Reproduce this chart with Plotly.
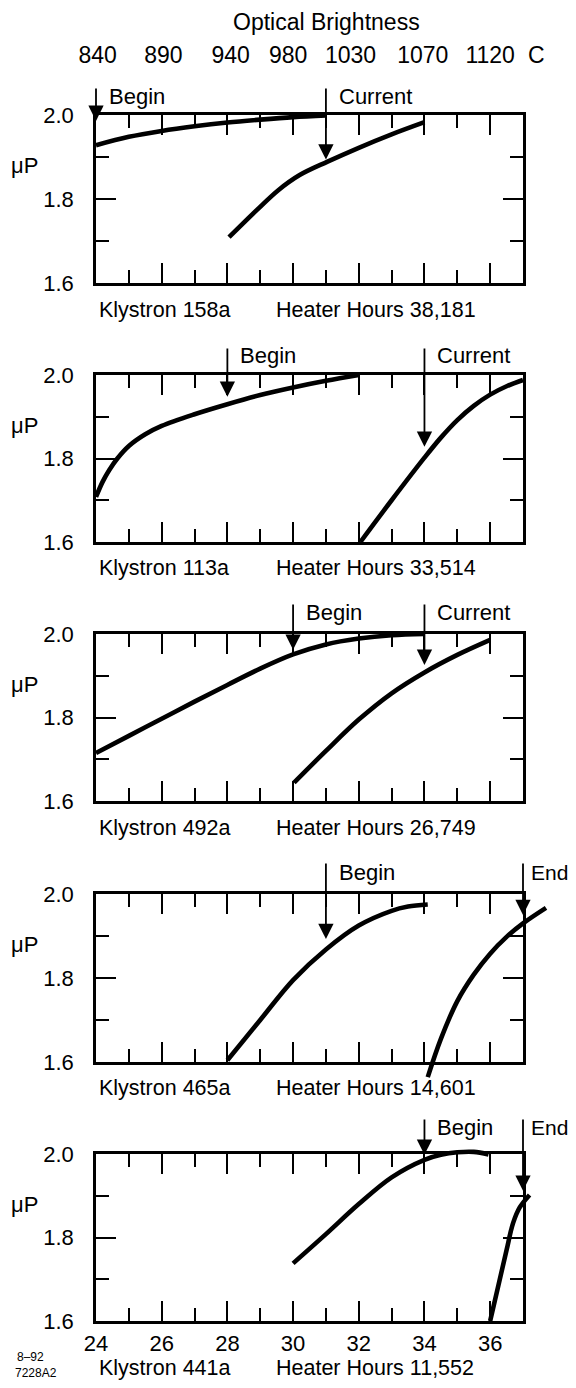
import plotly.graph_objects as go

# ---------------- data ----------------
x_major_ticks = [24, 26, 28, 30, 32, 34, 36]
optical_tick_pos = [24.05, 26.05, 28.1, 29.85, 31.75, 33.95, 36.0]
optical_tick_text = ["840", "890", "940", "980", "1030", "1070", "1120"]
optical_unit = "C"
optical_title = "Optical Brightness"
y_axis_label = "\u03bcP"

klystron_names = ["Klystron 158a", "Klystron 113a", "Klystron 492a",
                  "Klystron 465a", "Klystron 441a"]
heater_hours = ["Heater Hours 38,181", "Heater Hours 33,514", "Heater Hours 26,749",
                "Heater Hours 14,601", "Heater Hours 11,552"]

# panel 1 (Klystron 158a)
p1_begin_x = [24, 25, 26, 27, 28, 29, 30, 31]
p1_begin_y = [1.928, 1.948, 1.962, 1.973, 1.982, 1.989, 1.995, 1.999]
p1_current_x = [28.05, 28.9, 29.55, 30.2, 31.05, 32.0, 33.0, 34.0]
p1_current_y = [1.709, 1.774, 1.821, 1.857, 1.889, 1.922, 1.954, 1.983]

# panel 2 (Klystron 113a)
p2_begin_x = [24, 24.2, 24.4, 24.65, 25, 25.5, 26, 27, 28, 29, 30, 31, 32]
p2_begin_y = [1.708, 1.744, 1.772, 1.800, 1.830, 1.858, 1.878, 1.906, 1.930,
              1.952, 1.970, 1.986, 2.000]
p2_current_x = [32.05, 33, 34, 34.5, 35, 35.5, 36, 36.5, 37]
p2_current_y = [1.600, 1.700, 1.802, 1.850, 1.892, 1.926, 1.953, 1.973, 1.988]

# panel 3 (Klystron 492a)
p3_begin_x = [24, 25, 26, 27, 28, 29, 30, 31, 32, 33, 34]
p3_begin_y = [1.715, 1.756, 1.797, 1.838, 1.878, 1.917, 1.951, 1.975, 1.989,
              1.997, 2.000]
p3_current_x = [30.03, 31, 32, 33, 34, 35, 36]
p3_current_y = [1.644, 1.720, 1.795, 1.858, 1.908, 1.950, 1.986]

# panel 4 (Klystron 465a)
p4_begin_x = [28.0, 29, 30, 31, 32, 33, 33.5, 34.1]
p4_begin_y = [1.604, 1.700, 1.795, 1.868, 1.925, 1.960, 1.970, 1.975]
p4_end_x = [34.1, 34.5, 35.0, 35.5, 36.0, 36.5, 37.0, 37.7]
p4_end_y = [1.564, 1.655, 1.745, 1.808, 1.858, 1.898, 1.930, 1.967]

# panel 5 (Klystron 441a)
p5_begin_x = [30.0, 31, 32, 33, 34, 34.5, 35, 35.5, 35.95]
p5_begin_y = [1.738, 1.808, 1.880, 1.944, 1.986, 1.998, 2.004, 2.005, 1.999]
p5_end_x = [36.0, 36.25, 36.5, 36.7, 36.9, 37.2]
p5_end_y = [1.600, 1.685, 1.770, 1.835, 1.872, 1.902]

curves = [
    [(p1_begin_x, p1_begin_y), (p1_current_x, p1_current_y)],
    [(p2_begin_x, p2_begin_y), (p2_current_x, p2_current_y)],
    [(p3_begin_x, p3_begin_y), (p3_current_x, p3_current_y)],
    [(p4_begin_x, p4_begin_y), (p4_end_x, p4_end_y)],
    [(p5_begin_x, p5_begin_y), (p5_end_x, p5_end_y)],
]

arrow_labels = [["Begin", "Current"], ["Begin", "Current"], ["Begin", "Current"],
                ["Begin", "End"], ["Begin", "End"]]
arrow_x = [[24, 31], [28, 34], [30, 34], [31, 37], [34, 37]]
arrow_tip = [[1.986, 1.894], [1.948, 1.828], [1.962, 1.926], [1.893, 1.950],
             [1.998, 1.912]]

note_lines = ["8\u201392", "7228A2"]

# ---------------- layout geometry (page pixels) ----------------
PAGE_W, PAGE_H = 576, 1388
OFF = 8                      # default body margin of the html page
W, H = PAGE_W - 2 * OFF, PAGE_H - 2 * OFF
FONT = "Liberation Sans, Arial, Helvetica, sans-serif"
PX_X0, PX_X1 = 96, 523
PANEL_TOP = [115, 375, 634, 894, 1154]
PANEL_BOT = [283, 542, 801, 1062, 1321]
ARROW_TAIL = [87, 347, 603, 862, 1118]
ARROW_TEXT_Y = [97, 355, 612, 872, 1127]
LABEL_Y = [310, 568, 828, 1088, 1368]
XMIN, XMAX, YMIN, YMAX = 24, 37, 1.6, 2.0


def fx(p):
    """page pixel x -> paper fraction"""
    return (p - OFF) / W


def fy(p):
    """page pixel y -> paper fraction"""
    return 1 - (p - OFF) / H


def xpx(v):
    return PX_X0 + (v - XMIN) / (XMAX - XMIN) * (PX_X1 - PX_X0)


def ypx(k, v):
    return PANEL_TOP[k] + (YMAX - v) / (YMAX - YMIN) * (PANEL_BOT[k] - PANEL_TOP[k])


fig = go.Figure()
layout = dict(
    width=W, height=H,
    margin=dict(l=0, r=0, t=0, b=0, pad=0, autoexpand=False),
    paper_bgcolor="white", plot_bgcolor="rgba(0,0,0,0)",
    showlegend=False,
    font=dict(family=FONT, color="black", size=22),
)

annotations = []
ppu_x = (PX_X1 - PX_X0) / (XMAX - XMIN)

for k in range(5):
    i = k + 1
    e = k + 6
    top, bot = PANEL_TOP[k], PANEL_BOT[k]
    ppu_y = (bot - top) / (YMAX - YMIN)
    layout[f"xaxis{i}"] = dict(
        domain=[fx(PX_X0), fx(PX_X1)], range=[XMIN, XMAX], anchor=f"y{i}",
        showline=True, linewidth=2.6, linecolor="black", mirror="ticks",
        ticks="inside", ticklen=20, tickwidth=2.2, tickcolor="black",
        tickmode="array", tickvals=x_major_ticks,
        minor=dict(ticks="inside", ticklen=13, tickwidth=2.2, tickcolor="black",
                   tickmode="linear", tick0=24, dtick=1),
        showgrid=False, zeroline=False, automargin=False,
        showticklabels=(k == 4), tickfont=dict(size=22), ticklabelstandoff=1,
        fixedrange=True,
    )
    layout[f"yaxis{i}"] = dict(
        domain=[fy(bot), fy(top)], range=[YMIN, YMAX], anchor=f"x{i}",
        showline=True, linewidth=2.6, linecolor="black", mirror="ticks",
        ticks="inside", ticklen=20, tickwidth=2.2, tickcolor="black",
        tickmode="linear", tick0=1.6, dtick=0.2, tickformat=".1f",
        minor=dict(ticks="inside", ticklen=13, tickwidth=2.2, tickcolor="black",
                   tickmode="linear", tick0=1.6, dtick=0.1),
        showgrid=False, zeroline=False, automargin=False,
        tickfont=dict(size=22), ticklabelstandoff=15, fixedrange=True,
    )
    fig.add_trace(go.Scatter(x=[], y=[], xaxis=f"x{i}", yaxis=f"y{i}",
                             hoverinfo="skip", showlegend=False))

    # invisible axes with the same scale but a larger clip area, for the curves
    pad_l, pad_r, pad_t, pad_b = 10, (OFF + W) - PX_X1, 12, 30
    layout[f"xaxis{e}"] = dict(
        domain=[fx(PX_X0 - pad_l), fx(PX_X1 + pad_r)],
        range=[XMIN - pad_l / ppu_x, XMAX + pad_r / ppu_x],
        anchor=f"y{e}", visible=False, fixedrange=True, automargin=False,
    )
    layout[f"yaxis{e}"] = dict(
        domain=[fy(bot + pad_b), fy(top - pad_t)],
        range=[YMIN - pad_b / ppu_y, YMAX + pad_t / ppu_y],
        anchor=f"x{e}", visible=False, fixedrange=True, automargin=False,
    )
    for cx, cy in curves[k]:
        fig.add_trace(go.Scatter(
            x=cx, y=cy, mode="lines", xaxis=f"x{e}", yaxis=f"y{e}",
            line=dict(color="black", width=4.6, shape="spline", smoothing=1.0),
            hoverinfo="skip", showlegend=False,
        ))

    for ax_val, tip, lab in zip(arrow_x[k], arrow_tip[k], arrow_labels[k]):
        annotations.append(dict(
            xref=f"x{i}", yref=f"y{i}", x=ax_val, y=tip, text="",
            showarrow=True, ax=0, ay=ARROW_TAIL[k] - ypx(k, tip),
            arrowhead=2, arrowsize=1.7, arrowwidth=1.8, arrowcolor="black",
            standoff=0, startstandoff=0,
        ))
        near_edge = ax_val >= XMAX
        annotations.append(dict(
            xref="paper", yref="paper", x=fx(xpx(ax_val) + (7 if near_edge else 12)),
            y=fy(ARROW_TEXT_Y[k]), xanchor="left", yanchor="middle",
            text=lab, showarrow=False, font=dict(size=21 if near_edge else 22),
            borderpad=0,
        ))

    annotations.append(dict(
        xref="paper", yref="paper", x=fx(24), y=fy(ypx(k, 1.88)),
        xanchor="center", yanchor="middle", text=y_axis_label,
        showarrow=False, font=dict(size=22),
    ))
    annotations.append(dict(
        xref="paper", yref="paper", x=fx(98), y=fy(LABEL_Y[k]),
        xanchor="left", yanchor="middle", text=klystron_names[k],
        showarrow=False, font=dict(size=21.5), borderpad=0,
    ))
    annotations.append(dict(
        xref="paper", yref="paper", x=fx(275), y=fy(LABEL_Y[k]),
        xanchor="left", yanchor="middle", text=heater_hours[k],
        showarrow=False, font=dict(size=21.5), borderpad=0,
    ))

layout["xaxis11"] = dict(
    overlaying="x1", side="top", anchor="y1", range=[XMIN, XMAX],
    tickmode="array", tickvals=optical_tick_pos, ticktext=optical_tick_text,
    ticks="", showline=False, showgrid=False, zeroline=False, automargin=False,
    tickfont=dict(size=23), ticklabelstandoff=46, fixedrange=True,
)
fig.add_trace(go.Scatter(x=[], y=[], xaxis="x11", yaxis="y1",
                         hoverinfo="skip", showlegend=False))

annotations.append(dict(
    xref="paper", yref="paper", x=fx(326), y=fy(22),
    xanchor="center", yanchor="middle", text=optical_title,
    showarrow=False, font=dict(size=23), borderpad=0,
))
annotations.append(dict(
    xref="paper", yref="paper", x=fx(536), y=fy(55),
    xanchor="center", yanchor="middle", text=optical_unit,
    showarrow=False, font=dict(size=23),
))
annotations.append(dict(
    xref="paper", yref="paper", x=fx(16), y=fy(1357),
    xanchor="left", yanchor="middle", text=note_lines[0],
    showarrow=False, font=dict(size=12), borderpad=0,
))
annotations.append(dict(
    xref="paper", yref="paper", x=fx(14), y=fy(1373),
    xanchor="left", yanchor="middle", text=note_lines[1],
    showarrow=False, font=dict(size=12), borderpad=0,
))

layout["annotations"] = annotations
fig.update_layout(**layout)
fig.write_html("out.html")
